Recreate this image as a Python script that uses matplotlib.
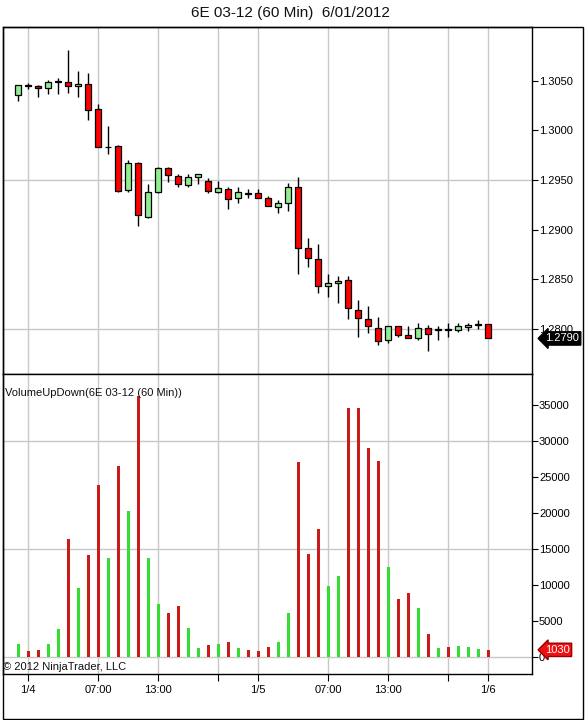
import matplotlib
matplotlib.use("Agg")
import matplotlib.pyplot as plt
import matplotlib.transforms as mtransforms
from matplotlib.patches import Rectangle
import numpy as np

plt.rcParams['font.family'] = ['Liberation Sans', 'DejaVu Sans']

# -----------------------------
# data (60 min bars, 6E 03-12)
# -----------------------------
opens = [1.3036, 1.3046, 1.3045, 1.3043, 1.3049, 1.3049, 1.3045, 1.3047,
         1.3022, 1.2983, 1.2984, 1.2940, 1.2967, 1.2913, 1.2938, 1.2962,
         1.2954, 1.2945, 1.2953, 1.2949, 1.2938, 1.2941, 1.2932, 1.2937,
         1.2937, 1.2932, 1.2923, 1.2927, 1.2943, 1.2881, 1.2870, 1.2843,
         1.2846, 1.2849, 1.2819, 1.2810, 1.2801, 1.2788, 1.2803, 1.2793,
         1.2790, 1.2801, 1.2799, 1.2800, 1.2799, 1.2802, 1.2804, 1.2805]
highs = [1.3046, 1.3048, 1.3046, 1.3051, 1.3053, 1.3081, 1.3060, 1.3058,
         1.3027, 1.3005, 1.2985, 1.2970, 1.2968, 1.2946, 1.2963, 1.2963,
         1.2956, 1.2956, 1.2956, 1.2952, 1.2949, 1.2943, 1.2943, 1.2941,
         1.2941, 1.2934, 1.2930, 1.2947, 1.2953, 1.2891, 1.2885, 1.2855,
         1.2853, 1.2853, 1.2829, 1.2823, 1.2812, 1.2803, 1.2803, 1.2803,
         1.2806, 1.2804, 1.2803, 1.2806, 1.2806, 1.2806, 1.2809, 1.2805]
lows = [1.3030, 1.3042, 1.3034, 1.3037, 1.3037, 1.3038, 1.3034, 1.3011,
        1.2983, 1.2976, 1.2938, 1.2938, 1.2904, 1.2912, 1.2937, 1.2948,
        1.2943, 1.2943, 1.2946, 1.2937, 1.2937, 1.2921, 1.2927, 1.2932,
        1.2932, 1.2924, 1.2917, 1.2919, 1.2855, 1.2862, 1.2836, 1.2832,
        1.2826, 1.2810, 1.2791, 1.2795, 1.2783, 1.2785, 1.2791, 1.2790,
        1.2788, 1.2777, 1.2788, 1.2791, 1.2797, 1.2798, 1.2800, 1.2790]
closes = [1.3046, 1.3045, 1.3043, 1.3049, 1.3050, 1.3045, 1.3047, 1.3021,
          1.2983, 1.2983, 1.2939, 1.2967, 1.2915, 1.2938, 1.2962, 1.2955,
          1.2946, 1.2953, 1.2956, 1.2939, 1.2942, 1.2931, 1.2938, 1.2936,
          1.2932, 1.2924, 1.2927, 1.2943, 1.2881, 1.2871, 1.2843, 1.2846,
          1.2848, 1.2821, 1.2811, 1.2803, 1.2787, 1.2803, 1.2793, 1.2790,
          1.2801, 1.2794, 1.2799, 1.2799, 1.2803, 1.2804, 1.2805, 1.2790]
volumes = [1900, 900, 1000, 1800, 3900, 16400, 9600, 14200,
           23900, 13700, 26500, 20300, 36200, 13700, 7400, 6100,
           7100, 4100, 1300, 1700, 1800, 2100, 1300, 1000,
           900, 1400, 2100, 6100, 27100, 14300, 17800, 9900,
           11300, 34500, 34500, 29000, 27200, 12500, 8100, 8900,
           6800, 3200, 1300, 1400, 1600, 1400, 1200, 1030]

tick_pos = [1, 8, 14, 20, 24, 31, 37, 43, 47]
tick_labels = ["1/4", "07:00", "13:00", "", "1/5", "07:00", "13:00", "", "1/6"]
price_ticks = [1.2800, 1.2850, 1.2900, 1.2950, 1.3000, 1.3050]
price_grid = [1.2800, 1.2950]
vol_ticks = [0, 5000, 10000, 15000, 20000, 25000, 30000, 35000]
vol_grid = [0, 15000, 30000]

o = np.array(opens)
h = np.array(highs)
l = np.array(lows)
c = np.array(closes)
v = np.array(volumes)
x = np.arange(len(o))
up = c >= o

GRID = "#c8c8c8"
UP_BODY = "#90ee90"
DN_BODY = "#ff0000"
VOL_UP = "#33dd33"
VOL_DN = "#cc1a1a"

W, H = 585, 720
fig = plt.figure(figsize=(W / 100, H / 100), dpi=100)

ax1 = fig.add_axes([3 / W, 1 - 374 / H, 529 / W, 347 / H])
ax2 = fig.add_axes([3 / W, 1 - 674 / H, 529 / W, 300 / H], sharex=ax1)

# -----------------------------
# candles
# -----------------------------
ax1.vlines(x, l, h, color="black", linewidth=1, zorder=2)
body_bot = np.minimum(o, c)
body_h = np.maximum(np.abs(c - o), 0.00004)
ax1.bar(x, body_h, bottom=body_bot, width=0.6,
        color=np.where(up, UP_BODY, DN_BODY), edgecolor="black",
        linewidth=0.9, zorder=3)

ax1.set_ylim(1.27541, 1.31045)
ax1.set_yticks(price_ticks)
ax1.set_yticklabels([f"{t:.4f}" for t in price_ticks])
for g in price_grid:
    ax1.axhline(g, color=GRID, linewidth=1, zorder=0)

# -----------------------------
# volume
# -----------------------------
ax2.bar(x, v, width=0.3, color=np.where(up, VOL_UP, VOL_DN), zorder=3)
ax2.set_ylim(-2313, 39240)
ax2.set_yticks(vol_ticks)
ax2.set_yticklabels([str(t) for t in vol_ticks])
for g in vol_grid:
    ax2.axhline(g, color=GRID, linewidth=1, zorder=0)

ax1.set_xlim(-1.5, 51.4)
for ax in (ax1, ax2):
    for p in tick_pos:
        ax.axvline(p, color=GRID, linewidth=1, zorder=0)
    ax.yaxis.tick_right()
    ax.tick_params(axis="y", direction="out", length=4, width=0.8,
                   labelsize=8, pad=1, colors="black")
    for s in ax.spines.values():
        s.set_linewidth(1)
        s.set_color("black")

ax1.set_xticks(tick_pos)
ax1.tick_params(axis="x", length=0, labelbottom=False)
ax2.set_xticks(tick_pos)
ax2.set_xticklabels(tick_labels)
ax2.tick_params(axis="x", direction="out", length=5, width=0.8,
                labelsize=8, pad=3, colors="black")

# last-value markers on the right axis
tr1 = mtransforms.blended_transform_factory(ax1.transAxes, ax1.transData)
ax1.text(1.025, closes[-1], f"{closes[-1]:.4f}", transform=tr1, color="white",
         fontsize=8, va="center", ha="left", clip_on=False, zorder=5,
         bbox=dict(boxstyle="larrow,pad=0.15", fc="black", ec="black"))
tr2 = mtransforms.blended_transform_factory(ax2.transAxes, ax2.transData)
ax2.text(1.025, volumes[-1], str(volumes[-1]), transform=tr2, color="white",
         fontsize=8, va="center", ha="left", clip_on=False, zorder=5,
         bbox=dict(boxstyle="larrow,pad=0.15", fc="#ee1111", ec="#990000"))

ax2.text(0.003, 0.937, "VolumeUpDown(6E 03-12 (60 Min))", transform=ax2.transAxes,
         fontsize=8, color="#111111", va="center", ha="left")
ax2.text(0.0, 0.025, "\u00a9 2012 NinjaTrader, LLC", transform=ax2.transAxes,
         fontsize=8, color="#111111", va="center", ha="left")

fig.text(290 / W, 1 - 13 / H, "6E 03-12 (60 Min)  6/01/2012", fontsize=11,
         ha="center", va="center", color="#111111")

fig.patches.append(Rectangle((3 / W, 1 - 719 / H), 580 / W, 692 / H, fill=False,
                             edgecolor="black", linewidth=1,
                             transform=fig.transFigure, figure=fig))

fig.savefig("out.png", dpi=100, facecolor="white")
